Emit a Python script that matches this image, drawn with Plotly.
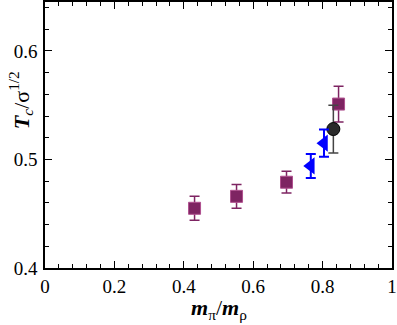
import plotly.graph_objects as go

# Tc / sqrt(sigma) versus m_pi / m_rho
sq_x = [0.431, 0.552, 0.696, 0.846]
sq_y = [0.455, 0.466, 0.479, 0.551]
sq_err = [0.011, 0.011, 0.010, 0.0165]

tri_x = [0.766, 0.804]
tri_y = [0.494, 0.515]
tri_err = [0.011, 0.0125]

circ_x = [0.831]
circ_y = [0.528]
circ_err = [0.022]

FONT = "Liberation Serif, Times New Roman, serif"
purple = "#7e2462"

fig = go.Figure()
fig.add_trace(go.Scatter(
    x=sq_x, y=sq_y, mode="markers",
    error_y=dict(type="data", array=sq_err, color=purple, thickness=1.5, width=5),
    marker=dict(symbol="square", size=12, color=purple,
                line=dict(color="#b0508f", width=1)),
))
fig.add_trace(go.Scatter(
    x=circ_x, y=circ_y, mode="markers",
    error_y=dict(type="data", array=circ_err, color="#444444", thickness=1.5, width=5),
    marker=dict(symbol="circle", size=13, color="#2a2a2a",
                line=dict(color="#000000", width=1)),
))
fig.add_trace(go.Scatter(
    x=tri_x, y=tri_y, mode="markers",
    error_y=dict(type="data", array=tri_err, color="#0000ff", thickness=2, width=5),
    marker=dict(symbol="triangle-left", size=15, color="#0000ff"),
))

axis_common = dict(
    showgrid=False, zeroline=False, showline=True, linecolor="black", linewidth=1.5,
    mirror="allticks", ticks="inside", ticklen=7, tickwidth=1.2, tickcolor="black",
    tickfont=dict(family=FONT, size=19, color="black"), automargin=False,
)
fig.update_xaxes(range=[0, 1], dtick=0.2, ticklabeloverflow="allow",
                 minor=dict(dtick=0.04, ticks="inside", ticklen=4, tickcolor="black"),
                 **axis_common)
fig.update_yaxes(range=[0.4, 0.645], dtick=0.1, ticklabelstandoff=2,
                 minor=dict(dtick=0.02, ticks="inside", ticklen=4, tickcolor="black"),
                 **axis_common)

fig.add_annotation(
    text="<b><i>m</i></b><sub>π</sub>/<b><i>m</i></b><sub>ρ</sub>",
    xref="paper", yref="paper", x=0.5, y=-0.215, yanchor="bottom", showarrow=False,
    font=dict(family=FONT, size=22, color="black"),
)
fig.add_annotation(
    text="<b><i>T</i></b><sub><i>c</i></sub>/σ<sup>1/2</sup>",
    xref="paper", yref="paper", x=-0.07, y=0.63, xanchor="center", yanchor="middle",
    textangle=-90, showarrow=False,
    font=dict(family=FONT, size=22, color="black"),
)

fig.update_layout(
    width=397, height=325,
    margin=dict(l=45, r=5, t=2, b=57),
    plot_bgcolor="white", paper_bgcolor="white",
    showlegend=False,
    font=dict(family=FONT),
)
fig.write_html("out.html", config={"displayModeBar": False},
               post_script="document.body.style.margin='0px';")
